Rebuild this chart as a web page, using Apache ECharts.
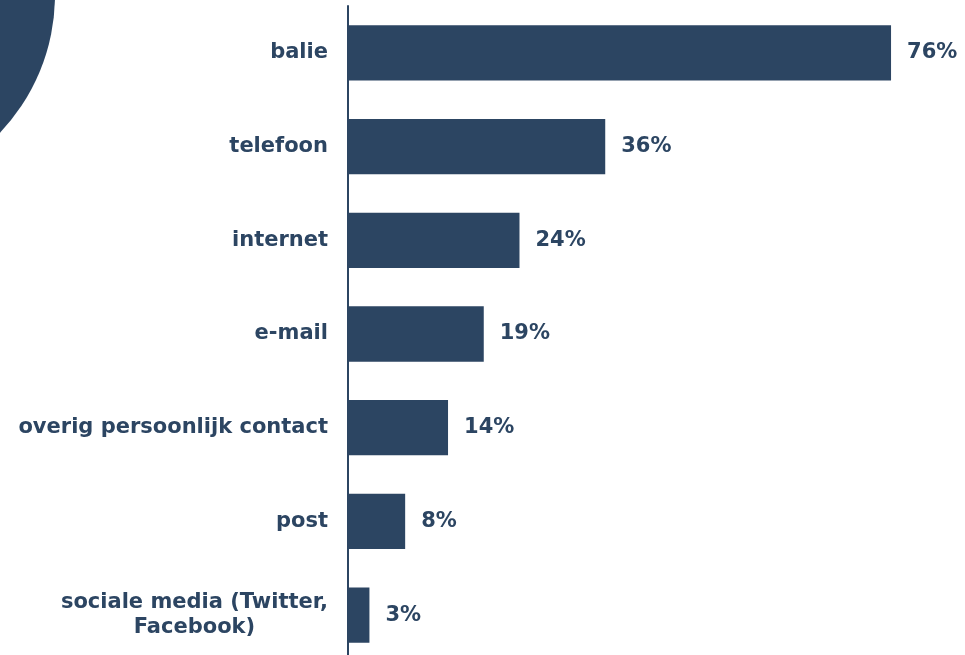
<!DOCTYPE html>
<html>
<head>
<meta charset="utf-8">
<style>
  html, body { margin: 0; padding: 0; background: #ffffff; }
  #chart { width: 965px; height: 655px; }
</style>
<script src="https://cdn.jsdelivr.net/npm/echarts@6/dist/echarts.min.js"></script>
</head>
<body>
<div id="chart"></div>
<script>
// Contact channels, top to bottom as drawn
const categories = [
  'balie',
  'telefoon',
  'internet',
  'e-mail',
  'overig persoonlijk contact',
  'post',
  'sociale media (Twitter,\nFacebook)'
];
const values = [76, 36, 24, 19, 14, 8, 3];

const navy = '#2c4562';
const font = '"DejaVu Sans", Verdana, sans-serif';
const size = 21;

const chart = echarts.init(document.getElementById('chart'), null, { renderer: 'canvas' });

chart.setOption({
  animation: false,
  backgroundColor: '#ffffff',
  graphic: [{
    type: 'circle',
    shape: { cx: -145, cy: -5, r: 200 },
    style: { fill: navy },
    z: 0
  }],
  grid: {
    left: 348,
    width: 614.5,
    top: 6,
    height: 656,
    containLabel: false,
    outerBoundsMode: 'none'
  },
  xAxis: {
    type: 'value',
    min: 0,
    max: 86,
    show: false
  },
  yAxis: {
    type: 'category',
    inverse: true,
    data: categories,
    axisLine: { show: true, lineStyle: { color: navy, width: 2 } },
    axisTick: { show: false },
    axisLabel: {
      margin: 20,
      fontFamily: font,
      fontWeight: 'bold',
      fontSize: size,
      color: navy,
      lineHeight: 25,
      formatter: function (v) {
        return v.split('\n').map(function (s) { return '{c|' + s + '}'; }).join('\n');
      },
      rich: {
        c: {
          align: 'center',
          fontFamily: font,
          fontWeight: 'bold',
          fontSize: size,
          color: navy,
          lineHeight: 25
        }
      }
    }
  },
  series: [{
    type: 'bar',
    data: values,
    barCategoryGap: '41%',
    itemStyle: { color: navy },
    label: {
      show: true,
      position: 'right',
      distance: 16,
      fontFamily: font,
      fontWeight: 'bold',
      fontSize: size,
      color: navy,
      formatter: '{c}%'
    }
  }]
});
</script>
</body>
</html>
